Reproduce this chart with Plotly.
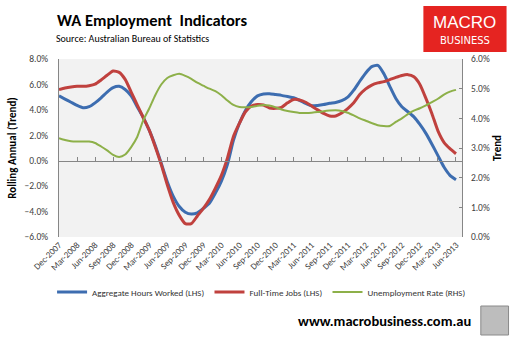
import plotly.graph_objects as go

# ---------------- data (monthly, Dec-2007 .. Jun-2013) ----------------
tick_labels = ["Dec-2007", "Mar-2008", "Jun-2008", "Sep-2008", "Dec-2008", "Mar-2009",
               "Jun-2009", "Sep-2009", "Dec-2009", "Mar-2010", "Jun-2010", "Sep-2010",
               "Dec-2010", "Mar-2011", "Jun-2011", "Sep-2011", "Dec-2011", "Mar-2012",
               "Jun-2012", "Sep-2012", "Dec-2012", "Mar-2013", "Jun-2013"]

hours = [5.10, 4.85, 4.60, 4.35, 4.17, 4.25, 4.55, 4.95, 5.40, 5.75,
         5.85, 5.60, 5.10, 4.25, 3.40, 2.40, 1.20, -0.20, -1.65, -2.80,
         -3.60, -4.05, -4.20, -4.10, -3.75, -3.35, -2.55, -1.60, -0.30, 1.60,
         2.95, 3.95, 4.65, 5.10, 5.25, 5.27, 5.20, 5.14, 5.05, 4.95,
         4.75, 4.50, 4.32, 4.35, 4.42, 4.52, 4.58, 4.72, 5.00, 5.55,
         6.25, 6.90, 7.40, 7.50, 6.85, 5.85, 4.90, 4.25, 3.85, 3.45,
         2.85, 2.15, 1.30, 0.40, -0.50, -1.15, -1.50]

ft_jobs = [5.60, 5.72, 5.80, 5.85, 5.85, 5.90, 6.02, 6.35, 6.72, 7.05,
           6.95, 6.40, 5.40, 4.40, 3.40, 2.40, 1.10, -0.30, -1.90, -3.30,
           -4.30, -4.95, -4.95, -4.35, -3.75, -3.05, -2.15, -1.15, 0.20, 1.90,
           2.95, 3.85, 4.30, 4.42, 4.38, 4.15, 4.12, 4.20, 4.55, 4.82,
           4.78, 4.60, 4.30, 4.00, 3.72, 3.52, 3.52, 3.75, 4.10, 4.55,
           5.20, 5.65, 5.95, 6.12, 6.22, 6.38, 6.55, 6.70, 6.77, 6.60,
           6.00, 4.90, 3.70, 2.35, 1.45, 0.95, 0.55]

unemp = [3.33, 3.27, 3.23, 3.22, 3.22, 3.22, 3.17, 3.05, 2.92, 2.77,
         2.70, 2.78, 3.03, 3.37, 3.93, 4.33, 4.78, 5.14, 5.36, 5.45,
         5.50, 5.43, 5.33, 5.20, 5.10, 5.00, 4.92, 4.78, 4.60, 4.45,
         4.38, 4.37, 4.38, 4.42, 4.45, 4.43, 4.37, 4.30, 4.25, 4.21,
         4.18, 4.18, 4.19, 4.21, 4.24, 4.26, 4.27, 4.25, 4.19, 4.10,
         4.00, 3.92, 3.84, 3.77, 3.74, 3.74, 3.88, 4.00, 4.14, 4.26,
         4.34, 4.44, 4.55, 4.66, 4.80, 4.90, 4.96]

months = list(range(len(hours)))
tick_vals = months[::3]

# ---------------- layout geometry (pixels) ----------------
W, H = 516, 339
L, R, T, B = 55, 462, 59, 237


def px(x):
    return (x - L) / (R - L)


def py(y):
    return (B - y) / (B - T)


FONT = "Carlito, Lato, Arial, sans-serif"
TXT = "#404040"

fig = go.Figure()
fig.add_trace(go.Scatter(x=months, y=hours, name="Aggregate Hours Worked (LHS)",
                         mode="lines", line=dict(color="#3D6DB0", width=3, shape="spline", smoothing=0.6)))
fig.add_trace(go.Scatter(x=months, y=ft_jobs, name="Full-Time Jobs (LHS)",
                         mode="lines", line=dict(color="#C0413E", width=3, shape="spline", smoothing=0.6)))
fig.add_trace(go.Scatter(x=months, y=unemp, name="Unemployment Rate (RHS)", yaxis="y2",
                         mode="lines", line=dict(color="#8DB049", width=2, shape="spline", smoothing=0.6)))
# carrier for the zero-crossing category axis
fig.add_trace(go.Scatter(x=[None], y=[None], xaxis="x2", showlegend=False, hoverinfo="skip"))

fig.update_layout(
    width=W, height=H,
    margin=dict(l=L, r=W - R, t=T, b=H - B),
    paper_bgcolor="white", plot_bgcolor="#F2F2F2",
    font=dict(family=FONT, size=9, color=TXT),
    showlegend=True,
    legend=dict(orientation="h", x=px(48), y=py(292), xanchor="left", yanchor="middle",
                font=dict(size=9, color="#333333", family=FONT), itemwidth=30, tracegroupgap=0,
                bgcolor="rgba(0,0,0,0)"),
    xaxis=dict(range=[0, 67], tickvals=tick_vals, ticktext=tick_labels, tickangle=-45,
               showline=False, ticks="", showgrid=False, zeroline=False,
               tickfont=dict(size=9, color=TXT)),
    xaxis2=dict(overlaying="x", anchor="free", position=6 / 14, range=[0, 67],
                tickvals=tick_vals, showticklabels=False, ticks="inside", ticklen=4,
                tickcolor="#868686", showline=True, linecolor="#868686", linewidth=1,
                showgrid=False, zeroline=False),
    yaxis=dict(range=[-6, 8], dtick=2, tickformat=".1f", ticksuffix="%",
               showline=True, linecolor="#868686", linewidth=1, ticks="",
               showgrid=False, zeroline=False, ticklabelstandoff=8,
               tickfont=dict(size=9.5, color=TXT),
               title=dict(text="<b>Rolling Annual (Trend)</b>", standoff=5,
                          font=dict(size=11, color="#000000"))),
    yaxis2=dict(range=[0, 6], dtick=1, tickformat=".1f", ticksuffix="%",
                overlaying="y", side="right", anchor="x",
                showline=True, linecolor="#868686", linewidth=1,
                ticks="inside", ticklen=3, tickcolor="#868686",
                showgrid=False, zeroline=False, ticklabelstandoff=6,
                tickfont=dict(size=9.5, color=TXT),
                title=dict(text="<b>Trend</b>", standoff=4,
                           font=dict(size=11, color="#000000"))),
)

# titles
fig.add_annotation(text="<b>WA Employment  Indicators</b>", xref="paper", yref="paper",
                   x=px(51), y=py(20), xanchor="left", yanchor="middle", showarrow=False,
                   font=dict(size=16.5, color="#000000", family=FONT))
fig.add_annotation(text="Source: Australian Bureau of Statistics", xref="paper", yref="paper",
                   x=px(50), y=py(39), xanchor="left", yanchor="middle", showarrow=False,
                   font=dict(size=10, color="#000000", family=FONT))

# logo
fig.add_shape(type="rect", xref="paper", yref="paper", x0=px(423), x1=px(507), y0=py(52), y1=py(6),
              fillcolor="#E52421", line=dict(width=0), layer="above")
fig.add_annotation(text="MACRO", xref="paper", yref="paper", x=px(465), y=py(22),
                   xanchor="center", yanchor="middle", showarrow=False,
                   font=dict(size=17, color="white", family="Liberation Sans, Arial, sans-serif"))
fig.add_annotation(text="BUSINESS", xref="paper", yref="paper", x=px(465), y=py(40),
                   xanchor="center", yanchor="middle", showarrow=False,
                   font=dict(size=10, color="white", family="DejaVu Sans, sans-serif"))

# footer
fig.add_annotation(text="<b>www.macrobusiness.com.au</b>", xref="paper", yref="paper",
                   x=px(473), y=py(321), xanchor="right", yanchor="middle", showarrow=False,
                   font=dict(size=14.5, color="#000000", family=FONT))
fig.add_shape(type="rect", xref="paper", yref="paper", x0=px(481), x1=px(509), y0=py(335), y1=py(306),
              fillcolor="#BDBDBD", line=dict(width=1, color="#8A8A8A"), layer="above")

fig.write_html("out.html")
